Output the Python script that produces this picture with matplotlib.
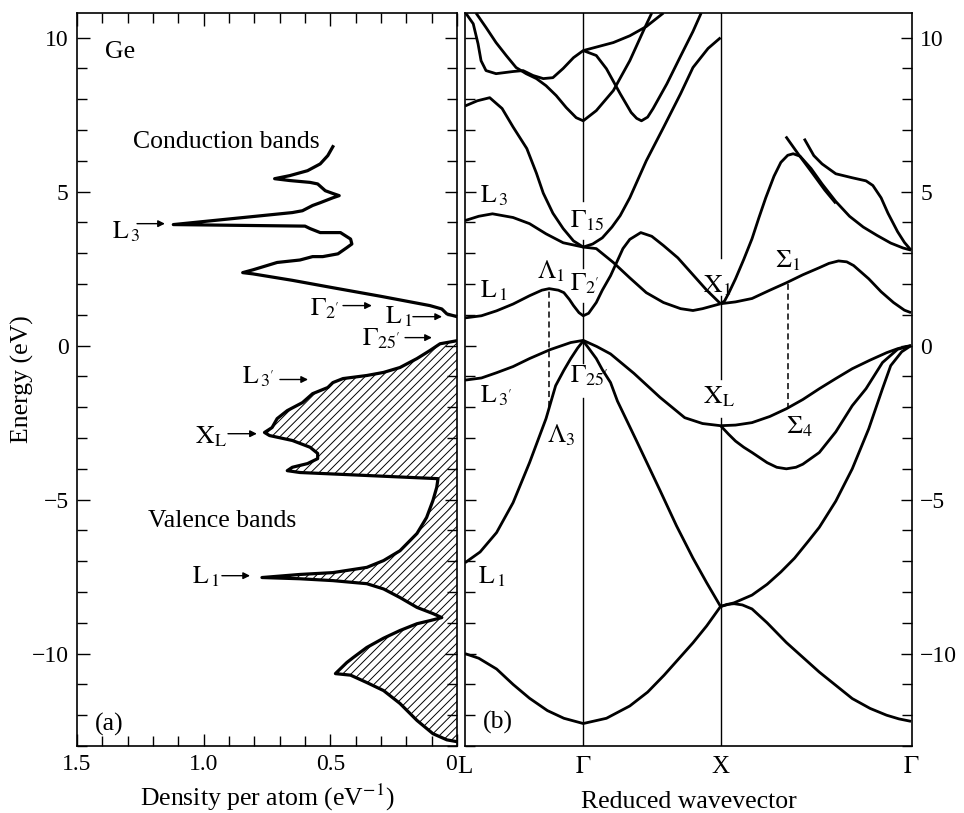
import matplotlib
matplotlib.use("Agg")
import matplotlib.pyplot as plt
from matplotlib.ticker import MultipleLocator, FixedLocator

plt.rcParams['font.family'] = ['Liberation Serif', 'DejaVu Serif']
plt.rcParams['mathtext.fontset'] = 'stix'
plt.rcParams['hatch.linewidth'] = 0.7
plt.rcParams['axes.linewidth'] = 1.2

# ---- (a) density of states, (DOS, energy) pairs along the outline ----
dos_cond = [0, 0.04, 0.06, 0.107, 0.3, 0.49, 0.65, 0.806, 0.846, 0.806, 0.75, 0.71,
            0.62, 0.57, 0.53, 0.47, 0.435, 0.415, 0.42, 0.46, 0.54, 0.58, 0.6, 1.12,
            0.65, 0.61, 0.57, 0.54, 0.49, 0.465, 0.49, 0.52, 0.55, 0.58, 0.66, 0.72,
            0.66, 0.59, 0.54, 0.51, 0.49]
e_cond = [0.94, 1.03, 1.19, 1.3, 1.6, 1.88, 2.12, 2.33, 2.37, 2.46, 2.6, 2.7,
          2.78, 2.89, 2.89, 2.98, 3.18, 3.3, 3.46, 3.67, 3.67, 3.8, 3.88, 3.93,
          4.32, 4.38, 4.55, 4.64, 4.8, 4.87, 4.94, 5.03, 5.25, 5.3, 5.36, 5.42,
          5.52, 5.68, 5.9, 6.17, 6.46]

dos_val = [0, 0.04, 0.067, 0.107, 0.158, 0.225, 0.29, 0.356, 0.45, 0.49, 0.51, 0.57,
           0.61, 0.67, 0.71, 0.73, 0.76, 0.74, 0.65, 0.58, 0.55, 0.55, 0.59, 0.65,
           0.67, 0.62, 0.075, 0.08, 0.095, 0.12, 0.158, 0.225, 0.29, 0.356, 0.49,
           0.62, 0.77, 0.62, 0.49, 0.356, 0.29, 0.225, 0.158, 0.095, 0.06, 0.107,
           0.158, 0.225, 0.29, 0.356, 0.41, 0.435, 0.48, 0.42, 0.356, 0.29, 0.225,
           0.158, 0.095, 0.04, 0]
e_val = [0.16, 0.1, 0.06, -0.16, -0.42, -0.71, -0.87, -0.97, -1.07, -1.2, -1.36, -1.56,
         -1.85, -2.11, -2.37, -2.66, -2.82, -2.92, -3.08, -3.3, -3.5, -3.67, -3.83, -3.95,
         -4.06, -4.12, -4.32, -4.6, -5.03, -5.58, -6.1, -6.66, -6.98, -7.2, -7.37,
         -7.43, -7.53, -7.57, -7.63, -7.73, -7.9, -8.18, -8.5, -8.7, -8.83, -8.93,
         -9.03, -9.25, -9.5, -9.8, -10.13, -10.29, -10.65, -10.7, -10.94, -11.2, -11.62,
         -12.17, -12.6, -12.8, -12.86]

# ---- (b) band structure: symmetry points and bands as (k, E) lists ----
k_sym = [0, 0.861, 1.861, 3.248]
k_names = ['L', r'$\Gamma$', 'X', r'$\Gamma$']

bands = {
    'b1': ([0, 0.1, 0.23, 0.35, 0.47, 0.6, 0.72, 0.861, 1.03, 1.2, 1.33, 1.45, 1.55, 1.66,
            1.76, 1.861, 1.91, 1.96, 2.02, 2.09, 2.2, 2.34, 2.46, 2.58, 2.7, 2.82, 2.95,
            3.07, 3.16, 3.248],
           [-10.0, -10.15, -10.5, -11.0, -11.45, -11.85, -12.1, -12.27, -12.1, -11.7, -11.25,
            -10.7, -10.2, -9.65, -9.1, -8.47, -8.4, -8.38, -8.42, -8.55, -9.0, -9.64, -10.12,
            -10.6, -11.03, -11.46, -11.78, -12.0, -12.12, -12.2]),
    'b2': ([0, 0.11, 0.23, 0.35, 0.47, 0.59, 0.66, 0.72, 0.77, 0.82, 0.861, 0.9, 0.956,
            1.0, 1.06, 1.11, 1.25, 1.42, 1.54, 1.66, 1.76, 1.861],
           [-7.05, -6.7, -6.07, -5.1, -3.8, -2.37, -1.3, -0.8, -0.42, -0.08, 0.15, -0.08,
            -0.42, -0.78, -1.2, -1.8, -3.1, -4.7, -5.85, -6.9, -7.7, -8.47]),
    'b3': ([0, 0.12, 0.23, 0.35, 0.47, 0.62, 0.77, 0.861, 0.96, 1.06, 1.23, 1.42, 1.6,
            1.73, 1.861, 1.97, 2.09, 2.22, 2.34, 2.46, 2.58, 2.7, 2.82, 2.95, 3.07,
            3.15, 3.21, 3.248],
           [-1.12, -1.05, -0.88, -0.68, -0.42, -0.13, 0.1, 0.17, -0.03, -0.27, -0.9, -1.68,
            -2.34, -2.53, -2.6, -2.58, -2.5, -2.3, -2.05, -1.75, -1.4, -1.07, -0.75, -0.47,
            -0.23, -0.1, -0.03, 0]),
    'b3s': ([1.861, 1.92, 1.97, 2.03, 2.09, 2.2, 2.27, 2.34, 2.41, 2.46, 2.58, 2.7, 2.82,
             2.92, 3.04, 3.15, 3.248],
            [-2.6, -2.88, -3.1, -3.3, -3.47, -3.8, -3.95, -4.0, -3.95, -3.85, -3.47, -2.8,
             -1.95, -1.4, -0.55, -0.12, 0]),
    'b2s': ([1.861, 1.96, 2.09, 2.2, 2.3, 2.4, 2.5, 2.58, 2.7, 2.82, 2.94, 3.04, 3.1,
             3.18, 3.248],
            [-8.47, -8.35, -8.1, -7.75, -7.35, -6.9, -6.35, -5.9, -5.05, -4.0, -2.7, -1.4,
             -0.65, -0.2, 0]),
    'b4': ([0, 0.12, 0.23, 0.35, 0.47, 0.56, 0.613, 0.68, 0.72, 0.76, 0.79, 0.83, 0.861,
            0.9, 0.956, 1.0, 1.06, 1.15, 1.2, 1.28, 1.36, 1.445, 1.55, 1.66, 1.76, 1.861],
           [0.9, 0.97, 1.13, 1.35, 1.62, 1.8, 1.85, 1.8, 1.72, 1.5, 1.3, 1.07, 0.97, 1.05,
            1.4, 1.8, 2.27, 3.15, 3.45, 3.67, 3.55, 3.25, 2.85, 2.3, 1.8, 1.36]),
    'b5': ([0, 0.1, 0.2, 0.35, 0.47, 0.59, 0.715, 0.861, 0.956, 1.08, 1.2, 1.32, 1.445,
            1.57, 1.66, 1.73, 1.861],
           [4.06, 4.2, 4.28, 4.16, 3.96, 3.63, 3.34, 3.2, 3.15, 2.7, 2.2, 1.72, 1.4, 1.2,
            1.14, 1.2, 1.36]),
    'b6': ([0, 0.09, 0.18, 0.27, 0.35, 0.45, 0.52, 0.57, 0.64, 0.715, 0.79, 0.861, 0.93,
            1.0, 1.07, 1.13, 1.2, 1.32, 1.445, 1.57, 1.66, 1.77, 1.861],
           [7.78, 7.95, 8.05, 7.7, 7.1, 6.4, 5.6, 4.95, 4.3, 3.8, 3.4, 3.2, 3.3, 3.5, 3.85,
            4.22, 4.8, 6.0, 7.08, 8.18, 9.03, 9.65, 10.0]),
    'ua': ([0.005, 0.06, 0.095, 0.117, 0.153, 0.226, 0.35, 0.423, 0.496, 0.57, 0.64, 0.715,
            0.79, 0.861, 1.08, 1.2, 1.32, 1.445],
           [10.8, 10.45, 9.8, 9.25, 8.93, 8.83, 8.9, 8.93, 8.77, 8.67, 8.7, 9.0, 9.35, 9.58,
            9.84, 10.06, 10.36, 10.8]),
    'ub': ([0.08, 0.153, 0.226, 0.3, 0.372, 0.445, 0.52, 0.59, 0.664, 0.737, 0.81, 0.861,
            0.956, 1.08, 1.2, 1.31, 1.36],
           [10.8, 10.33, 9.84, 9.42, 9.03, 8.83, 8.67, 8.44, 8.12, 7.73, 7.4, 7.3, 7.63,
            8.28, 9.25, 10.33, 10.8]),
    'uc': ([0.861, 0.956, 1.03, 1.13, 1.21, 1.25, 1.285, 1.33, 1.37, 1.47, 1.57, 1.66, 1.72],
           [9.58, 9.42, 8.99, 8.18, 7.57, 7.38, 7.3, 7.42, 7.7, 8.5, 9.4, 10.2, 10.8]),
    'sig1': ([1.861, 1.97, 2.09, 2.22, 2.34, 2.46, 2.58, 2.65, 2.72, 2.78, 2.83, 2.94, 3.03,
              3.12, 3.2, 3.248],
             [1.36, 1.42, 1.53, 1.8, 2.04, 2.3, 2.53, 2.67, 2.75, 2.72, 2.6, 2.17, 1.75, 1.4,
              1.15, 1.07]),
    'sa': ([1.861, 1.89, 1.92, 1.97, 2.03, 2.09, 2.14, 2.19, 2.25, 2.3, 2.35, 2.39, 2.44,
            2.52, 2.6, 2.7, 2.8, 2.9, 3.0, 3.1, 3.19, 3.248],
           [1.36, 1.45, 1.7, 2.17, 2.8, 3.47, 4.15, 4.8, 5.5, 5.95, 6.18, 6.23, 6.15, 5.75,
            5.25, 4.68, 4.2, 3.85, 3.58, 3.33, 3.17, 3.1]),
    'sb': ([2.336, 2.43, 2.53, 2.62, 2.7],
           [6.79, 6.2, 5.6, 5.05, 4.62]),
    'sc': ([2.47, 2.54, 2.6, 2.7, 2.82, 2.92, 2.97, 3.03, 3.08, 3.15, 3.2, 3.248],
           [6.72, 6.17, 5.9, 5.58, 5.45, 5.35, 5.2, 4.8, 4.3, 3.7, 3.35, 3.1]),
}

# vertical guide segments at Gamma and X (E ranges between labels)
gamma_segs = [(4.71, 10.8), (2.53, 3.44), (-0.58, 1.40), (-13, -1.69)]
x_segs = [(2.86, 10.8), (-1.07, 1.6), (-13, -2.34)]
dashed = [(0.613, -2.0, 1.85), (2.35, -2.05, 2.06)]

TICK_FS = 17
FS = 18.5
fig = plt.figure(figsize=(9.64, 8.13), dpi=100)
W, H = 964, 813
ax1 = fig.add_axes([77 / W, 1 - 746 / H, 380 / W, 733 / H])
ax2 = fig.add_axes([465 / W, 1 - 746 / H, 447 / W, 733 / H])

# ---------- panel (a) ----------
ax1.fill(dos_val, e_val, facecolor='none', edgecolor='k', hatch='////', linewidth=0)
ax1.plot(dos_val, e_val, color='k', lw=2.3, solid_joinstyle='round')
ax1.plot(dos_cond, e_cond, color='k', lw=2.3, solid_joinstyle='round')
ax1.set_xlim(1.5, 0)
ax1.set_ylim(-13, 10.8)
ax1.xaxis.set_major_locator(FixedLocator([1.5, 1.0, 0.5, 0]))
ax1.set_xticklabels(['1.5', '1.0', '0.5', '0'])
ax1.get_xticklabels()[-1].set_ha('right')
ax1.xaxis.set_minor_locator(MultipleLocator(0.1))
ax1.yaxis.set_major_locator(MultipleLocator(5))
ax1.yaxis.set_minor_locator(MultipleLocator(1))
ax1.tick_params(which='both', direction='in', top=True, right=True, labelsize=TICK_FS)
ax1.tick_params(axis='y', pad=6)
ax1.tick_params(axis='x', pad=6)
ax1.tick_params(which='major', length=9, width=1)
ax1.tick_params(which='minor', length=7, width=1)
ax1.set_xlabel(r'Density per atom (eV$^{-1}$)', fontsize=FS)
ax1.xaxis.set_label_coords(0.5, (746 - 806) / 733)
ax1.xaxis.label.set_va('baseline')
ax1.set_ylabel('Energy (eV)', fontsize=FS)
ax1.yaxis.set_label_coords((34 - 77) / 380, 0.5)

arrows_a = [
    (r'$\mathrm{L}_{\,3}$', 1.362, 3.47, 1.263, 1.153, 3.96),
    (r'$\Gamma_{2^\prime}$', 0.58, 0.97, 0.45, 0.336, 1.3),
    (r'$\mathrm{L}_{\,1}$', 0.284, 0.71, 0.174, 0.059, 0.94),
    (r'$\Gamma_{25^\prime}$', 0.375, 0.0, 0.205, 0.099, 0.26),
    (r'$\mathrm{L}_{\,3^\prime}$', 0.849, -1.23, 0.699, 0.588, -1.1),
    (r'$\mathrm{X}_\mathrm{L}$', 1.034, -3.18, 0.904, 0.79, -2.86),
    (r'$\mathrm{L}_{\,1}$', 1.046, -7.73, 0.928, 0.817, -7.47),
]
for txt, tx, ty, ax0, ax_tip, ay in arrows_a:
    ax1.text(tx, ty, txt, fontsize=FS, ha='left', va='baseline')
    ax1.annotate('', xy=(ax_tip, ay), xytext=(ax0, ay),
                 arrowprops=dict(arrowstyle='-|>', color='k', lw=1.0, mutation_scale=10,
                                 shrinkA=0, shrinkB=0))
ax1.text(1.39, 9.35, 'Ge', fontsize=FS, ha='left', va='baseline')
ax1.text(1.28, 6.43, 'Conduction bands', fontsize=FS, ha='left', va='baseline')
ax1.text(1.22, -5.88, 'Valence bands', fontsize=FS, ha='left', va='baseline')
ax1.text(1.43, -12.5, '(a)', fontsize=FS, ha='left', va='baseline')

# ---------- panel (b) ----------
for name, (kk, ee) in bands.items():
    ax2.plot(kk, ee, color='k', lw=2.0, solid_joinstyle='round', solid_capstyle='butt')
for lo, hi in gamma_segs:
    ax2.plot([k_sym[1], k_sym[1]], [lo, hi], color='k', lw=1.0)
for lo, hi in x_segs:
    ax2.plot([k_sym[2], k_sym[2]], [lo, hi], color='k', lw=1.0)
for kd, lo, hi in dashed:
    ax2.plot([kd, kd], [lo, hi], color='k', lw=1.1, linestyle=(0, (4, 2.5)))

ax2.set_xlim(0, 3.255)
ax2.set_ylim(-13, 10.8)
ax2.set_xticks(k_sym)
ax2.set_xticklabels(k_names)
ax2.yaxis.set_major_locator(MultipleLocator(5))
ax2.yaxis.set_minor_locator(MultipleLocator(1))
ax2.tick_params(axis='x', length=0, labelsize=TICK_FS + 1, pad=7)
ax2.tick_params(axis='y', which='both', direction='in', left=True, right=True,
                labelleft=False, labelright=True, labelsize=TICK_FS, pad=6)
ax2.tick_params(axis='y', which='major', length=8, width=1)
ax2.tick_params(axis='y', which='minor', length=7, width=1)
ax2.set_xlabel('Reduced wavevector', fontsize=FS)
ax2.xaxis.set_label_coords(0.5, (746 - 808) / 733)
ax2.xaxis.label.set_va('baseline')

labels_b = [
    (r'$\mathrm{L}_{\,3}$', 0.11, 4.64),
    (r'$\Gamma_{15}$', 0.766, 3.83),
    (r'$\mathrm{L}_{\,1}$', 0.11, 1.56),
    (r'$\Lambda_1$', 0.525, 2.17),
    (r'$\Gamma_{2^\prime}$', 0.766, 1.79),
    (r'$\mathrm{X}_1$', 1.73, 1.72),
    (r'$\Sigma_1$', 2.26, 2.53),
    (r'$\mathrm{L}_{\,3^\prime}$', 0.11, -1.85),
    (r'$\Gamma_{25^\prime}$', 0.766, -1.2),
    (r'$\mathrm{X}_\mathrm{L}$', 1.73, -1.88),
    (r'$\Lambda_3$', 0.6, -3.15),
    (r'$\Sigma_4$', 2.34, -2.86),
    (r'$\mathrm{L}_{\,1}$', 0.095, -7.73),
    ('(b)', 0.13, -12.43),
]
for txt, kx, ey in labels_b:
    ax2.text(kx, ey, txt, fontsize=FS, ha='left', va='baseline')

fig.savefig('out.png', dpi=100)
